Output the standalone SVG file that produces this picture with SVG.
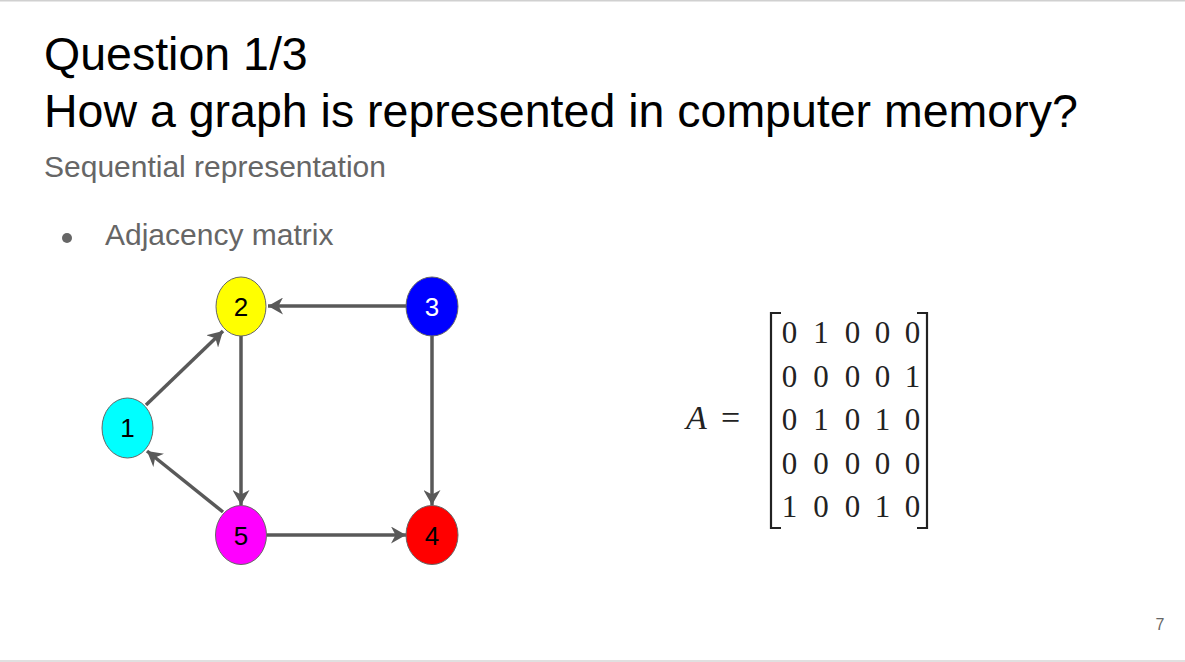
<svg xmlns="http://www.w3.org/2000/svg" width="1185" height="662" viewBox="0 0 1185 662">
<style>
.t{font-family:"Liberation Sans",Arial,sans-serif}
.node ellipse{stroke:#666;stroke-width:1}
.node text{font-family:"Liberation Sans",Arial,sans-serif;font-size:26px;text-anchor:middle}
.edge{stroke:#595959;stroke-width:3.5;fill:none;marker-end:url(#ah)}
.m{font-family:"Liberation Serif","Times New Roman",serif;font-size:31px;fill:#222;text-anchor:middle}
.br{stroke:#222;stroke-width:2.2;fill:none}
</style>
<defs>
<marker id="ah" viewBox="0 0 15 17" refX="15" refY="8.5" markerWidth="15" markerHeight="17" markerUnits="userSpaceOnUse" orient="auto">
<path d="M15,8.5 L0,0 L4.5,8.5 L0,17 Z" fill="#595959"/>
</marker>
</defs>
<rect x="0" y="0" width="1185" height="662" fill="#fff"/>
<rect x="0" y="0" width="1185" height="1.5" fill="#d0d0d0"/>
<rect x="0" y="660" width="1185" height="2" fill="#e0e0e0"/>
<text class="t" x="44" y="70" font-size="46.5" fill="#000">Question 1/3</text>
<text class="t" x="44" y="127" font-size="46.5" fill="#000">How a graph is represented in computer memory?</text>
<text class="t" x="44" y="177" font-size="30" fill="#666">Sequential representation</text>
<circle cx="67" cy="238" r="5" fill="#666"/>
<text class="t" x="105" y="245" font-size="30" fill="#666">Adjacency matrix</text>
<text class="t" x="1160" y="630" font-size="16" fill="#666" text-anchor="middle">7</text>
<g id="connectors">
<line class="edge" x1="406" y1="306" x2="268" y2="306"/>
<line class="edge" x1="241" y1="336" x2="241" y2="505"/>
<line class="edge" x1="432" y1="336" x2="432" y2="505"/>
<line class="edge" x1="267" y1="535" x2="406" y2="535"/>
<line class="edge" x1="146" y1="405" x2="223" y2="331"/>
<line class="edge" x1="223" y1="512" x2="147" y2="451"/>
</g>
<g id="node1" class="node"><ellipse cx="127.5" cy="428" rx="25.5" ry="30" fill="#00ffff"/><text x="127.5" y="437">1</text></g>
<g id="node2" class="node"><ellipse cx="241" cy="306.5" rx="25" ry="29.5" fill="#ffff00"/><text x="241" y="316">2</text></g>
<g id="node3" class="node"><ellipse cx="432" cy="306.5" rx="26" ry="29.5" fill="#0000ff"/><text x="432" y="316" fill="#fff">3</text></g>
<g id="node4" class="node"><ellipse cx="432" cy="535" rx="26" ry="29.5" fill="#ff0000"/><text x="432" y="544.5">4</text></g>
<g id="node5" class="node"><ellipse cx="241" cy="535" rx="25.5" ry="29.5" fill="#ff00ff"/><text x="241" y="544.5">5</text></g>
<g id="matrix">
<text x="686" y="429" font-family="'Liberation Serif','Times New Roman',serif" font-size="34" font-style="italic" fill="#222">A</text>
<text x="721" y="429" font-family="'Liberation Serif','Times New Roman',serif" font-size="34" fill="#222">=</text>
<path class="br" d="M781,313 L771,313 L771,528 L781,528"/>
<path class="br" d="M917,313 L927,313 L927,528 L917,528"/>
<g class="m">
<text x="789.5" y="343">0</text><text x="821" y="343">1</text><text x="852.5" y="343">0</text><text x="882.5" y="343">0</text><text x="912.5" y="343">0</text>
<text x="789.5" y="386.5">0</text><text x="821" y="386.5">0</text><text x="852.5" y="386.5">0</text><text x="882.5" y="386.5">0</text><text x="912.5" y="386.5">1</text>
<text x="789.5" y="430">0</text><text x="821" y="430">1</text><text x="852.5" y="430">0</text><text x="882.5" y="430">1</text><text x="912.5" y="430">0</text>
<text x="789.5" y="473.5">0</text><text x="821" y="473.5">0</text><text x="852.5" y="473.5">0</text><text x="882.5" y="473.5">0</text><text x="912.5" y="473.5">0</text>
<text x="789.5" y="517">1</text><text x="821" y="517">0</text><text x="852.5" y="517">0</text><text x="882.5" y="517">1</text><text x="912.5" y="517">0</text>
</g>
</g>
</svg>
